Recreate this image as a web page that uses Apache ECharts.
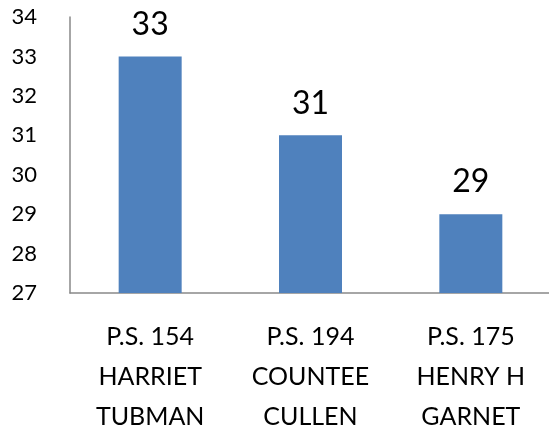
<!DOCTYPE html>
<html>
<head>
<meta charset="utf-8">
<script src="https://cdn.jsdelivr.net/npm/echarts@6/dist/echarts.min.js"></script>
<style>
  html, body { margin: 0; padding: 0; background: #fff; }
  #chart { width: 549px; height: 429px; }
</style>
</head>
<body>
<div id="chart"></div>
<script>
var schools = ['P.S. 154\nHARRIET\nTUBMAN', 'P.S. 194\nCOUNTEE\nCULLEN', 'P.S. 175\nHENRY H\nGARNET'];
var scores = [33, 31, 29];
var yTicks = [27, 28, 29, 30, 31, 32, 33, 34];

var chart = echarts.init(document.getElementById('chart'));
var option = {
    animation: false,
    textStyle: { fontFamily: 'Lato' },
    grid: {
        left: 70,
        right: -2,
        top: 17,
        bottom: 136,
        outerBoundsMode: 'none'
    },
    xAxis: {
        type: 'category',
        data: schools,
        axisLine: { lineStyle: { color: '#898989', width: 1.5 } },
        axisTick: { show: false },
        axisLabel: {
            color: '#000',
            fontSize: 25,
            lineHeight: 40,
            margin: 24,
            interval: 0
        }
    },
    yAxis: {
        type: 'value',
        min: yTicks[0],
        max: yTicks[yTicks.length - 1],
        interval: 1,
        splitLine: { show: false },
        axisTick: { show: false },
        axisLine: { show: true, lineStyle: { color: '#898989', width: 1.5 } },
        axisLabel: { color: '#000', fontSize: 22, margin: 33 }
    },
    series: [{
        type: 'bar',
        data: scores,
        barWidth: 63,
        itemStyle: { color: '#4F81BD' },
        label: {
            show: true,
            position: 'top',
            distance: 16,
            color: '#000',
            fontSize: 32
        }
    }]
};
chart.setOption(option);
</script>
</body>
</html>
